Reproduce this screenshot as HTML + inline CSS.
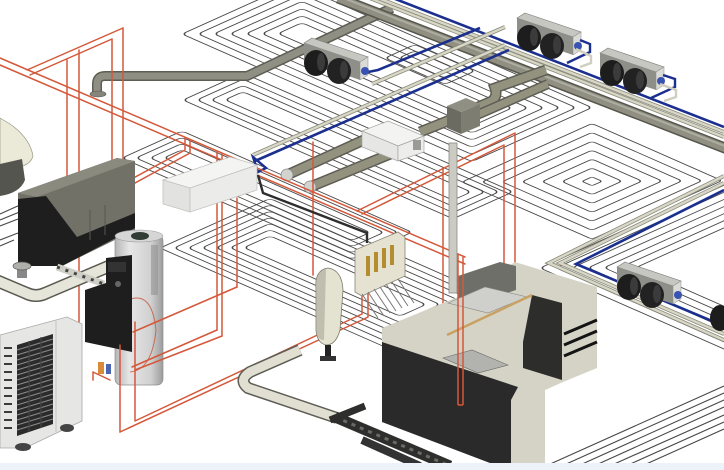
<!DOCTYPE html>
<html><head><meta charset="utf-8"><title>MEP system</title>
<style>html,body{margin:0;padding:0;background:#fff;overflow:hidden}svg{display:block}</style>
</head><body>
<svg xmlns="http://www.w3.org/2000/svg" xmlns:xlink="http://www.w3.org/1999/xlink" width="724" height="470" viewBox="0 0 724 470">
<defs>
<linearGradient id="tk" x1="0" x2="1" y1="0" y2="0"><stop offset="0" stop-color="#b5b5b5"/><stop offset=".3" stop-color="#e6e6e6"/><stop offset=".75" stop-color="#d0d0d0"/><stop offset="1" stop-color="#9c9c9c"/></linearGradient>
<g id="fcu">
 <polygon points="10,0 66,19 58,24 2,5" fill="#c7c7c2" stroke="#7a7a76" stroke-width=".6"/>
 <polygon points="2,5 58,24 58,42 2,23" fill="#8f8f89"/>
 <polygon points="58,24 66,19 66,37 58,42" fill="#dadad6" stroke="#8a8a86" stroke-width=".5"/>
 <ellipse cx="14" cy="25" rx="12" ry="13" fill="#1d1d1d"/>
 <ellipse cx="37" cy="33" rx="12" ry="13" fill="#222"/>
 <ellipse cx="19" cy="24" rx="4" ry="9" fill="#3b3b3b"/>
 <ellipse cx="42" cy="32" rx="4" ry="9" fill="#3b3b3b"/>
 <circle cx="63" cy="33" r="4" fill="#3953b3"/>
</g>
</defs>
<rect width="724" height="470" fill="#fff"/>
<rect y="463" width="724" height="7" fill="#edf3f9"/>

<!-- underfloor heating coils -->
<g fill="none" stroke="#484848" stroke-width="1.1">
 <g transform="matrix(1,0.44,1,-0.45,462,182)">
  <rect x="0" y="0" width="130" height="130" rx="3"/><rect x="10" y="10" width="110" height="110" rx="3"/>
  <rect x="20" y="20" width="90" height="90" rx="3"/><rect x="30" y="30" width="70" height="70" rx="3"/>
  <rect x="40" y="40" width="50" height="50" rx="3"/><rect x="50" y="50" width="30" height="30" rx="3"/>
  <rect x="60" y="60" width="10" height="10" rx="2"/>
 </g>
 <g transform="matrix(1,0.44,1,-0.45,182,34)">
  <rect x="0" y="0" width="290" height="120" rx="4"/><rect x="8" y="8" width="274" height="104" rx="4"/>
  <rect x="16" y="16" width="258" height="88" rx="4"/><rect x="24" y="24" width="242" height="72" rx="4"/>
  <rect x="32" y="32" width="226" height="56" rx="4"/><rect x="40" y="40" width="210" height="40" rx="4"/>
  <rect x="48" y="48" width="194" height="24" rx="4"/>
 </g>
 <g transform="matrix(1,0.44,1,-0.45,183,100)">
  <rect x="0" y="0" width="270" height="60" rx="4"/><rect x="7" y="7" width="256" height="46" rx="4"/>
  <rect x="14" y="14" width="242" height="32" rx="4"/><rect x="21" y="21" width="228" height="18" rx="4"/>
 </g>
 <g transform="matrix(1,0.44,1,-0.45,385,58)">
  <rect x="0" y="0" width="60" height="30" rx="4"/><rect x="7" y="7" width="46" height="16" rx="4"/>
 </g>
 <g transform="matrix(1,0.44,1,-0.45,160,248)">
  <rect x="0" y="0" width="240" height="110" rx="4"/><rect x="7" y="7" width="226" height="96" rx="4"/>
  <rect x="14" y="14" width="212" height="82" rx="4"/><rect x="21" y="21" width="198" height="68" rx="4"/>
  <rect x="28" y="28" width="184" height="54" rx="4"/><rect x="35" y="35" width="170" height="40" rx="4"/>
  <rect x="42" y="42" width="156" height="26" rx="4"/>
 </g>
 <g transform="matrix(1,0.44,1,-0.45,122,158)">
  <rect x="0" y="0" width="230" height="60" rx="4"/><rect x="7" y="7" width="216" height="46" rx="4"/>
  <rect x="14" y="14" width="202" height="32" rx="4"/><rect x="21" y="21" width="188" height="18" rx="4"/>
 </g>
 <g transform="matrix(1,0.44,1,-0.45,540,268)">
  <rect x="0" y="0" width="320" height="240" rx="4"/><rect x="8" y="8" width="304" height="224" rx="4"/>
  <rect x="16" y="16" width="288" height="208" rx="4"/><rect x="24" y="24" width="272" height="192" rx="4"/>
  <rect x="32" y="32" width="256" height="176" rx="4"/><rect x="40" y="40" width="240" height="160" rx="4"/>
  <rect x="48" y="48" width="224" height="144" rx="4"/>
 </g>
 <path d="M548,465L724,386M564,465L724,393M580,465L724,400M596,465L724,407M612,465L724,415M628,465L724,422M644,465L724,429"/>
 <path d="M0,214L20,205M0,220L22,211M0,226L18,219M0,240L18,233M0,246L14,240"/>
</g>

<!-- top-left gray duct -->
<path d="M97,93L97,84Q97,76 105,76L247,76L392,8" fill="none" stroke="#5e5d54" stroke-width="10"/>
<path d="M97,93L97,84Q97,76 105,76L247,76L392,8" fill="none" stroke="#908f83" stroke-width="7"/>
<ellipse cx="98" cy="94" rx="8" ry="3" fill="#85857b" stroke="#555" stroke-width=".6"/>

<!-- main duct & service pipes -->
<line x1="338" y1="-2" x2="730" y2="150" stroke="#56564c" stroke-width="11"/>
<line x1="338" y1="-2" x2="730" y2="150" stroke="#908f82" stroke-width="8"/>
<line x1="338" y1="-4" x2="730" y2="148" stroke="#aeada2" stroke-width="2"/>
<line x1="362" y1="-5" x2="724" y2="137" stroke="#8a8a7c" stroke-width="4"/>
<line x1="362" y1="-5" x2="724" y2="137" stroke="#d8d7c6" stroke-width="2.4"/>
<line x1="370" y1="-5" x2="724" y2="132" stroke="#8a8a7c" stroke-width="4"/>
<line x1="370" y1="-5" x2="724" y2="132" stroke="#d8d7c6" stroke-width="2.4"/>
<line x1="385" y1="-5" x2="724" y2="127" stroke="#1b2f8f" stroke-width="2.6"/>

<!-- blue / beige branches -->
<path d="M368,72L378,70L480,28" fill="none" stroke="#1b2f8f" stroke-width="2.6"/>
<path d="M372,84L505,27" fill="none" stroke="#8a8a7c" stroke-width="4"/>
<path d="M372,84L505,27" fill="none" stroke="#d8d7c6" stroke-width="2.4"/>
<path d="M253,155L505,45" fill="none" stroke="#8a8a7c" stroke-width="4"/>
<path d="M253,155L505,45" fill="none" stroke="#d8d7c6" stroke-width="2.4"/>
<path d="M255,161L509,50" fill="none" stroke="#1b2f8f" stroke-width="2.6"/>
<path d="M253,157L266,168L258,172Z" fill="none" stroke="#1b2f8f" stroke-width="2.4"/>
<!-- lower-right loop -->
<path d="M724,176L549,263L724,340" fill="none" stroke="#8a8a7c" stroke-width="4"/>
<path d="M724,176L549,263L724,340" fill="none" stroke="#d8d7c6" stroke-width="2.4"/>
<path d="M724,183L560,263L724,334" fill="none" stroke="#8a8a7c" stroke-width="4"/>
<path d="M724,183L560,263L724,334" fill="none" stroke="#d8d7c6" stroke-width="2.4"/>
<path d="M724,190L576,264L724,326" fill="none" stroke="#1b2f8f" stroke-width="2.6"/>

<!-- branch gray ducts -->
<g stroke-linecap="butt" fill="none">
 <line x1="287" y1="175" x2="366" y2="139" stroke="#5e5d54" stroke-width="11"/>
 <line x1="287" y1="175" x2="366" y2="139" stroke="#93927f" stroke-width="8"/>
 <line x1="310" y1="187" x2="400" y2="150" stroke="#5e5d54" stroke-width="11"/>
 <line x1="310" y1="187" x2="400" y2="150" stroke="#93927f" stroke-width="8"/>
 <line x1="420" y1="132" x2="450" y2="120" stroke="#5e5d54" stroke-width="11"/>
 <line x1="420" y1="132" x2="450" y2="120" stroke="#93927f" stroke-width="8"/>
 <path d="M476,108L492,101Q498,96 495,88L546,70" stroke="#5e5d54" stroke-width="11"/>
 <path d="M476,108L492,101Q498,96 495,88L546,70" stroke="#93927f" stroke-width="8"/>
 <line x1="470" y1="118" x2="548" y2="84" stroke="#5e5d54" stroke-width="10"/>
 <line x1="470" y1="118" x2="548" y2="84" stroke="#93927f" stroke-width="7"/>
</g>
<circle cx="287" cy="175" r="6" fill="#d2d2ce" stroke="#888" stroke-width=".8"/>
<circle cx="310" cy="187" r="6" fill="#d2d2ce" stroke="#888" stroke-width=".8"/>
<!-- silencer -->
<polygon points="447,106 466,98 480,104 461,112" fill="#908f83"/>
<polygon points="447,106 461,112 461,134 447,128" fill="#6c6b62"/>
<polygon points="461,112 480,104 480,126 461,134" fill="#7e7d72"/>
<!-- ventilator -->
<polygon points="362,131 388,121 424,136 398,146" fill="#f3f3f1" stroke="#a5a5a2" stroke-width=".7"/>
<polygon points="362,131 398,146 398,161 362,147" fill="#e6e6e4" stroke="#a5a5a2" stroke-width=".7"/>
<polygon points="398,146 424,136 424,152 398,161" fill="#ededeb" stroke="#a5a5a2" stroke-width=".7"/>
<rect x="413" y="140" width="8" height="10" fill="#9a9a98"/>

<!-- fan coil units -->
<use href="#fcu" xlink:href="#fcu" transform="translate(302,38)"/>
<use href="#fcu" xlink:href="#fcu" transform="translate(515,13)"/>
<use href="#fcu" xlink:href="#fcu" transform="translate(598,48)"/>
<use href="#fcu" xlink:href="#fcu" transform="translate(615,262)"/>
<ellipse cx="720" cy="318" rx="10" ry="13" fill="#1d1d1d"/>
<path d="M580,40L590,44L590,52L567,63" fill="none" stroke="#1b2f8f" stroke-width="2.4"/>
<path d="M576,49L591,56L591,63L580,67" fill="none" stroke="#d0cfbf" stroke-width="2.4"/>
<path d="M663,75L675,79L675,87L651,98" fill="none" stroke="#1b2f8f" stroke-width="2.4"/>
<path d="M660,84L676,90L676,97L664,101" fill="none" stroke="#d0cfbf" stroke-width="2.4"/>

<!-- red pipes (behind) -->
<g fill="none" stroke="#d4583a" stroke-width="1.5" stroke-linecap="round">
 <path d="M0,58L465,257M0,65L465,264"/>
 <path d="M27,70L123,28M30,75L112,39"/>
 <path d="M123,28V180M112,39V187M79,50V322M67,60V207"/>
 <path d="M80,207L185,150M80,213L190,153M185,138V150M190,140V153"/>
 <path d="M217,152V330M222,154V336M237,198V287"/>
 <path d="M357,211L515,133M362,214L504,145M515,133V268M504,145V268"/>
 <path d="M313,142V275M443,168V310"/>
</g>

<!-- ventilation box left -->
<polygon points="163,180 230,157 257,165 190,188" fill="#f4f4f2" stroke="#c2c2be" stroke-width=".8"/>
<polygon points="163,180 190,188 190,212 163,204" fill="#e2e2e0" stroke="#c2c2be" stroke-width=".8"/>
<polygon points="190,188 257,165 257,190 190,212" fill="#ebebe9" stroke="#c2c2be" stroke-width=".8"/>
<path d="M258,175L263,193L367,233L367,243" fill="none" stroke="#2e2e2e" stroke-width="2.4"/>

<!-- toilet -->
<path d="M0,118L10,124Q30,138 33,156Q30,167 12,168L0,170Z" fill="#ebe9d8" stroke="#9a9886" stroke-width=".7"/>
<path d="M0,164L22,159L25,180Q20,193 0,196Z" fill="#55554f"/>

<!-- left dark unit -->
<polygon points="18,193 117,158 135,161 135,230 62,266 18,266" fill="#727168"/>
<polygon points="18,193 117,158 135,161 37,197" fill="#8b8a7f"/>
<polygon points="18,199 46,196 77,237 135,213 135,228 62,266 18,266" fill="#1e1e1e"/>
<path d="M90,210V240M105,205V235" stroke="#55554f" stroke-width="1"/>

<!-- white floor pipe -->
<path d="M-5,280L26,293Q36,298 46,293L112,265" fill="none" stroke="#5a5a52" stroke-width="13"/>
<path d="M-5,280L26,293Q36,298 46,293L112,265" fill="none" stroke="#e6e5d9" stroke-width="10"/>
<rect x="17" y="266" width="10" height="12" fill="#888"/>
<ellipse cx="22" cy="266" rx="9" ry="4" fill="#b0b0aa" stroke="#555" stroke-width=".7"/>
<line x1="57" y1="267" x2="104" y2="284" stroke="#cfcfc8" stroke-width="7"/>
<line x1="57" y1="267" x2="104" y2="284" stroke="#444" stroke-width="3" stroke-dasharray="3 6"/>

<!-- water heater tank -->
<rect x="115" y="235" width="48" height="150" rx="6" fill="url(#tk)" stroke="#8e8e8e" stroke-width=".7"/>
<ellipse cx="139" cy="236" rx="24" ry="6" fill="#d6d6d6" stroke="#999" stroke-width=".6"/>
<ellipse cx="140" cy="236" rx="9" ry="4" fill="#2f3b33"/>
<rect x="151" y="245" width="7" height="50" fill="#8e8e8e" opacity=".55"/>
<path d="M128,300Q152,290 156,330Q152,370 130,372" fill="none" stroke="#c6543a" stroke-width="1" opacity=".8"/>
<!-- black panel -->
<polygon points="106,258 132,255 132,352 85,342 85,290 106,283" fill="#1e1e1e"/>
<rect x="108" y="262" width="18" height="10" fill="#333"/>
<circle cx="118" cy="284" r="3" fill="#666"/>
<rect x="98" y="362" width="6" height="12" fill="#d98a3a"/><rect x="106" y="364" width="5" height="10" fill="#4a66b0"/>

<!-- outdoor AC -->
<polygon points="0,335 67,317 82,324 82,421 67,428 25,448 0,448" fill="#e6e6e4" stroke="#a8a8a6" stroke-width=".8"/>
<line x1="56" y1="320" x2="56" y2="432" stroke="#c4c4c2" stroke-width="1"/>
<polygon points="17,345 53,334 53,424 17,436" fill="#2b2b2b"/>
<g stroke="#8a8a8a" stroke-width="1.1">
 <path d="M17,350L53,339M17,355L53,344M17,360L53,349M17,365L53,354M17,370L53,359M17,375L53,364M17,380L53,369M17,385L53,374M17,390L53,379M17,395L53,384M17,400L53,389M17,405L53,394M17,410L53,399M17,415L53,404M17,420L53,409M17,425L53,414M17,430L53,419"/>
</g>
<path d="M29,341V432M41,337V428" stroke="#444" stroke-width="1.2"/>
<g stroke="#3a3a3a" stroke-width="2"><path d="M4,348H12M4,356H12M4,364H12M4,372H12M4,380H12M4,388H12M4,396H12M4,404H12M4,412H12M4,420H12M4,428H12"/></g>
<ellipse cx="67" cy="428" rx="7" ry="4" fill="#444"/>
<ellipse cx="23" cy="447" rx="8" ry="4" fill="#444"/>

<!-- red pipes (front) -->
<g fill="none" stroke="#d4583a" stroke-width="1.5" stroke-linecap="round">
 <path d="M237,287L133,332M217,330L132,367M222,336L135,370"/>
 <path d="M120,345V432M135,322V420"/>
 <path d="M120,432L362,320M135,421L362,314M362,320L368,317V290M362,314V288"/>
 <path d="M93,372L110,380M93,372V380"/>
</g>

<!-- urinal -->
<path d="M316,290Q314,270 328,268Q342,270 343,290L340,330Q336,345 326,345Q317,343 316,330Z" fill="#e4e2d0" stroke="#7a786a" stroke-width=".8"/>
<path d="M316,290Q314,272 326,269L324,340Q317,340 316,330Z" fill="#a8a698" opacity=".6"/>
<rect x="325" y="345" width="6" height="13" fill="#222"/>
<rect x="320" y="356" width="16" height="5" fill="#333"/>

<!-- manifold -->
<polygon points="355,250 398,232 405,237 405,276 362,296 355,292" fill="#e6e2d2" stroke="#8a8678" stroke-width=".8"/>
<g fill="#b38d2e"><rect x="366" y="256" width="4" height="20"/><rect x="374" y="252" width="4" height="20"/><rect x="382" y="248" width="4" height="20"/><rect x="390" y="245" width="4" height="20"/></g>
<g stroke="#777" stroke-width="1"><path d="M362,294L378,318M368,292L384,316M374,289L390,313M380,287L396,311M386,284L402,308M392,282L408,306M398,279L414,303"/></g>

<!-- soil stack -->
<rect x="449" y="143" width="8" height="150" fill="#cbcbc4" stroke="#8a8a84" stroke-width=".8"/>

<!-- kitchen counter -->
<polygon points="382,328 470,292 515,262 597,287 597,368 563,382 545,390 545,463 490,463 382,422" fill="#d5d3c6"/>
<polygon points="458,276 500,262 516,266 516,290 470,305 458,300" fill="#6f6f69"/>
<polygon points="382,342 518,387 511,400 511,463 490,463 382,422" fill="#2a2a2a"/>
<polygon points="532,295 562,303 562,380 523,368 523,342" fill="#2d2d2b"/>
<g stroke="#141414" stroke-width="3"><path d="M564,334L597,320M564,345L597,331M564,356L597,342"/></g>
<polygon points="448,303 485,287 527,297 488,313" fill="#cfcfcb" stroke="#8a8a86" stroke-width=".6"/>
<polygon points="443,358 472,350 508,365 478,373" fill="#b2b2ae" stroke="#6a6a66" stroke-width=".6"/>
<line x1="447" y1="335" x2="532" y2="295" stroke="#c9a263" stroke-width="2.5"/>
<g fill="none" stroke="#d4583a" stroke-width="1.5"><path d="M458,254V405M463,257V405M458,405H463"/></g>

<!-- lower insulated pipes -->
<path d="M300,350L250,372Q238,380 248,388L337,418" fill="none" stroke="#5d5d55" stroke-width="12"/>
<path d="M300,350L250,372Q238,380 248,388L337,418" fill="none" stroke="#e0dfd2" stroke-width="9"/>
<path d="M335,417L450,466" fill="none" stroke="#2e2e2c" stroke-width="11"/>
<path d="M335,417L450,466" fill="none" stroke="#6a6a66" stroke-width="3" stroke-dasharray="4 5"/>
<path d="M362,440L420,466" fill="none" stroke="#333" stroke-width="8"/>
<path d="M330,420L365,406" fill="none" stroke="#2e2e2c" stroke-width="7"/>
<rect y="463" width="724" height="7" fill="#edf3f9"/>
</svg>
</body></html>
